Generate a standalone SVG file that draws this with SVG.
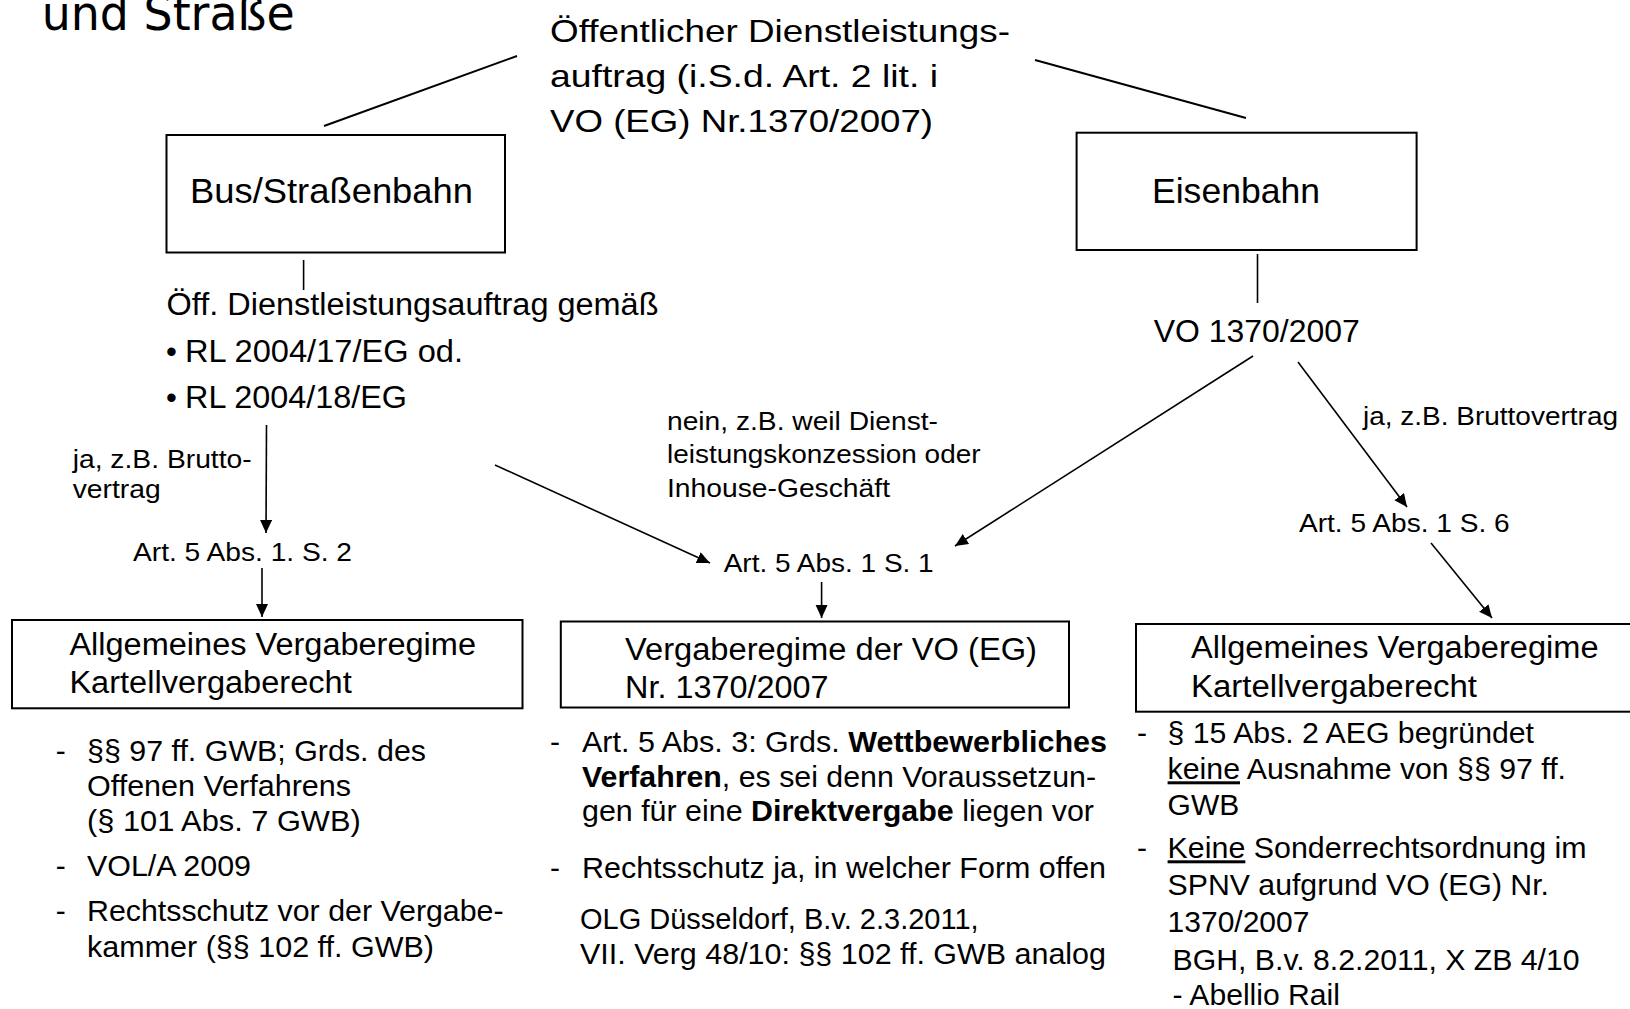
<svg xmlns="http://www.w3.org/2000/svg" width="1630" height="1009" viewBox="0 0 1630 1009">
<style>
text{font-family:"Liberation Sans",Arial,sans-serif;fill:#000}
.title{font-family:"DejaVu Sans",Verdana,sans-serif;font-size:48px}
.top{font-size:32px}
.box{fill:#fff;stroke:#000;stroke-width:2}
.bt{font-size:35px}
.mid{font-size:31px}
.lab{font-size:25px}
.bx{font-size:31px}
.li{font-size:30px}
.ln{stroke:#000;stroke-width:2;fill:none}
.ar{stroke:#000;stroke-width:1.6;fill:none;marker-end:url(#ah)}
</style>
<defs>
<marker id="ah" markerUnits="userSpaceOnUse" markerWidth="14" markerHeight="14" refX="13" refY="6" orient="auto">
<path d="M0,0 L13,6 L0,12 Z" fill="#000"/>
</marker>
</defs>
<rect width="1630" height="1009" fill="#fff"/>
<text class="title" x="41.7" y="30" textLength="253" lengthAdjust="spacingAndGlyphs">und Straße</text>

<g id="connectors">
<line class="ln" x1="517" y1="56" x2="324" y2="126"/>
<line class="ln" x1="1035" y1="60" x2="1246" y2="118"/>
<line class="ln" x1="303.6" y1="260" x2="303.6" y2="290" style="stroke-width:1.6"/>
<line class="ln" x1="1257.5" y1="254" x2="1257.5" y2="303" style="stroke-width:1.6"/>
<line class="ar" x1="266.5" y1="425" x2="266" y2="533"/>
<line class="ar" x1="262" y1="568" x2="262" y2="617"/>
<line class="ar" x1="495" y1="465" x2="710" y2="563"/>
<line class="ar" x1="1253" y1="356" x2="955" y2="546"/>
<line class="ar" x1="821.6" y1="582" x2="821.6" y2="618"/>
<line class="ar" x1="1298" y1="362" x2="1407" y2="507"/>
<line class="ar" x1="1431" y1="543" x2="1492" y2="618"/>
</g>

<g id="root">
<text class="top" x="550" y="42" textLength="460" lengthAdjust="spacingAndGlyphs">Öffentlicher Dienstleistungs-</text>
<text class="top" x="550" y="87" textLength="388" lengthAdjust="spacingAndGlyphs">auftrag (i.S.d. Art. 2 lit. i</text>
<text class="top" x="550" y="132" textLength="383" lengthAdjust="spacingAndGlyphs">VO (EG) Nr.1370/2007)</text>
</g>

<g id="bus">
<rect class="box" x="166.5" y="135" width="338.5" height="117.5"/>
<text class="bt" x="190" y="203" textLength="283" lengthAdjust="spacingAndGlyphs">Bus/Straßenbahn</text>
</g>

<g id="eisenbahn">
<rect class="box" x="1076.6" y="132.7" width="340" height="117.3"/>
<text class="bt" x="1152" y="203" textLength="168" lengthAdjust="spacingAndGlyphs">Eisenbahn</text>
</g>

<g id="oeff">
<text class="mid" x="166.5" y="315" textLength="492" lengthAdjust="spacingAndGlyphs">Öff. Dienstleistungsauftrag gemäß</text>
<text class="mid" x="166" y="361.7">•</text>
<text class="mid" x="185" y="361.7" textLength="278" lengthAdjust="spacingAndGlyphs">RL 2004/17/EG od.</text>
<text class="mid" x="166" y="408">•</text>
<text class="mid" x="185" y="408" textLength="222" lengthAdjust="spacingAndGlyphs">RL 2004/18/EG</text>
</g>

<g id="vo">
<text class="mid" x="1153.7" y="341.7" textLength="206" lengthAdjust="spacingAndGlyphs">VO 1370/2007</text>
</g>

<g id="labels">
<text class="lab" x="72.7" y="468" textLength="179" lengthAdjust="spacingAndGlyphs">ja, z.B. Brutto-</text>
<text class="lab" x="72.7" y="498" textLength="88" lengthAdjust="spacingAndGlyphs">vertrag</text>
<text class="lab" x="667" y="430" textLength="271" lengthAdjust="spacingAndGlyphs">nein, z.B. weil Dienst-</text>
<text class="lab" x="667" y="463" textLength="313.5" lengthAdjust="spacingAndGlyphs">leistungskonzession oder</text>
<text class="lab" x="667" y="496.7" textLength="223" lengthAdjust="spacingAndGlyphs">Inhouse-Geschäft</text>
<text class="lab" x="1363" y="425" textLength="255" lengthAdjust="spacingAndGlyphs">ja, z.B. Bruttovertrag</text>
</g>

<g id="art-s2">
<text class="lab" x="133" y="561" textLength="219" lengthAdjust="spacingAndGlyphs">Art. 5 Abs. 1. S. 2</text>
</g>
<g id="art-s1">
<text class="lab" x="723.7" y="571.7" textLength="210" lengthAdjust="spacingAndGlyphs">Art. 5 Abs. 1 S. 1</text>
</g>
<g id="art-s6">
<text class="lab" x="1299" y="531.7" textLength="210.6" lengthAdjust="spacingAndGlyphs">Art. 5 Abs. 1 S. 6</text>
</g>

<g id="box-left">
<rect class="box" x="12" y="620" width="510.5" height="88.3"/>
<text class="bx" x="69.4" y="655" textLength="406.6" lengthAdjust="spacingAndGlyphs">Allgemeines Vergaberegime</text>
<text class="bx" x="69.4" y="692.7" textLength="282.3" lengthAdjust="spacingAndGlyphs">Kartellvergaberecht</text>
</g>

<g id="box-mid">
<rect class="box" x="560.8" y="621.5" width="508.2" height="86"/>
<text class="bx" x="625" y="660" textLength="412" lengthAdjust="spacingAndGlyphs">Vergaberegime der VO (EG)</text>
<text class="bx" x="625" y="698.3" textLength="203.5" lengthAdjust="spacingAndGlyphs">Nr. 1370/2007</text>
</g>

<g id="box-right">
<rect class="box" x="1136" y="624" width="510" height="87.7"/>
<text class="bx" x="1191" y="658" textLength="407.6" lengthAdjust="spacingAndGlyphs">Allgemeines Vergaberegime</text>
<text class="bx" x="1191" y="696.7" textLength="286" lengthAdjust="spacingAndGlyphs">Kartellvergaberecht</text>
</g>

<g id="list-left">
<text class="li" x="55.7" y="761">-</text>
<text class="li" x="87" y="761" textLength="339" lengthAdjust="spacingAndGlyphs">§§ 97 ff. GWB; Grds. des</text>
<text class="li" x="87" y="796" textLength="264" lengthAdjust="spacingAndGlyphs">Offenen Verfahrens</text>
<text class="li" x="87" y="831" textLength="273.7" lengthAdjust="spacingAndGlyphs">(§ 101 Abs. 7 GWB)</text>
<text class="li" x="55.7" y="876">-</text>
<text class="li" x="87" y="876" textLength="164" lengthAdjust="spacingAndGlyphs">VOL/A 2009</text>
<text class="li" x="55.7" y="921">-</text>
<text class="li" x="87" y="921" textLength="416.6" lengthAdjust="spacingAndGlyphs">Rechtsschutz vor der Vergabe-</text>
<text class="li" x="87" y="957" textLength="347" lengthAdjust="spacingAndGlyphs">kammer (§§ 102 ff. GWB)</text>
</g>

<g id="list-mid">
<text class="li" x="550" y="752">-</text>
<text class="li" x="582" y="752" textLength="525" lengthAdjust="spacingAndGlyphs">Art. 5 Abs. 3: Grds. <tspan font-weight="bold">Wettbewerbliches</tspan></text>
<text class="li" x="582" y="787" textLength="514" lengthAdjust="spacingAndGlyphs"><tspan font-weight="bold">Verfahren</tspan>, es sei denn Voraussetzun-</text>
<text class="li" x="582" y="821" textLength="512" lengthAdjust="spacingAndGlyphs">gen für eine <tspan font-weight="bold">Direktvergabe</tspan> liegen vor</text>
<text class="li" x="550" y="878">-</text>
<text class="li" x="582" y="878" textLength="524" lengthAdjust="spacingAndGlyphs">Rechtsschutz ja, in welcher Form offen</text>
<text class="li" x="580" y="929" textLength="398.6" lengthAdjust="spacingAndGlyphs">OLG Düsseldorf, B.v. 2.3.2011,</text>
<text class="li" x="580" y="964" textLength="526" lengthAdjust="spacingAndGlyphs">VII. Verg 48/10: §§ 102 ff. GWB analog</text>
</g>

<g id="list-right">
<text class="li" x="1137" y="743.3">-</text>
<text class="li" x="1167.6" y="743.3" textLength="366.4" lengthAdjust="spacingAndGlyphs">§ 15 Abs. 2 AEG begründet</text>
<text class="li" x="1167.6" y="779.3" textLength="398.4" lengthAdjust="spacingAndGlyphs"><tspan text-decoration="underline">keine</tspan> Ausnahme von §§ 97 ff.</text>
<text class="li" x="1167.6" y="815">GWB</text>
<text class="li" x="1137" y="858.3">-</text>
<text class="li" x="1167.6" y="858.3" textLength="419" lengthAdjust="spacingAndGlyphs"><tspan text-decoration="underline">Keine</tspan> Sonderrechtsordnung im</text>
<text class="li" x="1167.6" y="895" textLength="381.4" lengthAdjust="spacingAndGlyphs">SPNV aufgrund VO (EG) Nr.</text>
<text class="li" x="1167.6" y="931.7">1370/2007</text>
<text class="li" x="1172.6" y="970" textLength="407" lengthAdjust="spacingAndGlyphs">BGH, B.v. 8.2.2011, X ZB 4/10</text>
<text class="li" x="1172.6" y="1005" textLength="167.4" lengthAdjust="spacingAndGlyphs">- Abellio Rail</text>
</g>
</svg>
